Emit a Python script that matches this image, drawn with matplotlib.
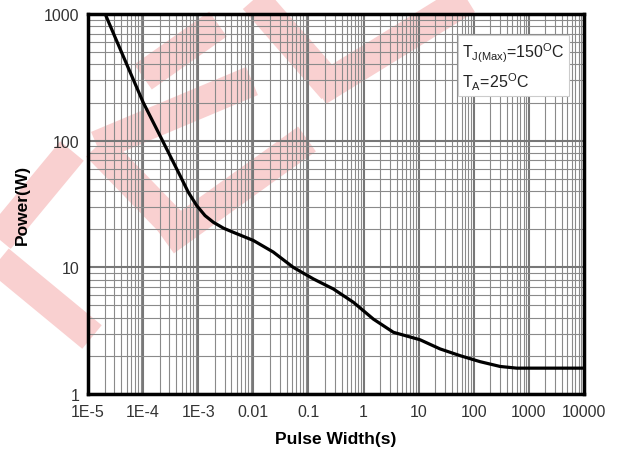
import matplotlib
matplotlib.use("Agg")
import matplotlib.pyplot as plt
from matplotlib.ticker import LogLocator, FixedLocator, FixedFormatter, NullFormatter
from matplotlib.lines import Line2D

plt.rcParams['font.family'] = ['Liberation Sans', 'DejaVu Sans']
plt.rcParams['mathtext.fontset'] = 'custom'
plt.rcParams['mathtext.rm'] = 'Liberation Sans'

# single pulse maximum power curve
pulse_width = [2.05e-5, 3e-5, 5e-5, 1e-4, 2.33e-4, 4.68e-4, 6.6e-4, 9.4e-4, 1.33e-3,
               1.88e-3, 2.86e-3, 4.34e-3, 0.01, 0.023, 0.053, 0.123, 0.283, 0.653,
               1.51, 3.48, 10.6, 24.4, 56, 130, 300, 600, 1000, 10000]
power = [1000, 678, 404, 201, 97, 53, 39.2, 30.7, 25.6,
         22.7, 20.4, 18.9, 16.3, 13.2, 10.0, 8.1, 6.75, 5.3,
         3.9, 3.07, 2.68, 2.27, 2.01, 1.80, 1.65, 1.60, 1.60, 1.60]

x_ticks = [1e-5, 1e-4, 1e-3, 1e-2, 1e-1, 1, 10, 100, 1000, 10000]
x_labels = ["1E-5", "1E-4", "1E-3", "0.01", "0.1", "1", "10", "100", "1000", "10000"]
y_ticks = [1, 10, 100, 1000]
y_labels = ["1", "10", "100", "1000"]

W, H = 618, 452
fig = plt.figure(figsize=(W / 100, H / 100), dpi=100)
ax = fig.add_axes([88 / W, 1 - 395 / H, 496 / W, 380 / H])
ax.patch.set_alpha(0)

# pale red watermark strokes behind the plot (pixel coords, y down)
strokes = [
    ((-5, 245), (72, 152)),
    ((-5, 258), (92, 338)),
    ((97, 147), (187, 240)),
    ((97, 147), (252, 82)),
    ((165, 242), (307, 140)),
    ((143, 78), (218, 25)),
    ((250, -5), (333, 90)),
    ((318, 92), (475, -5)),
]
for (x0, y0), (x1, y1) in strokes:
    fig.add_artist(Line2D([x0 / W, x1 / W], [1 - y0 / H, 1 - y1 / H],
                          transform=fig.transFigure, color='#f9d0d0',
                          lw=22, solid_capstyle='butt', zorder=-5))

ax.loglog(pulse_width, power, color='black', lw=2.3, zorder=3)

ax.set_xlim(1e-5, 1e4)
ax.set_ylim(1, 1000)

ax.xaxis.set_major_locator(FixedLocator(x_ticks))
ax.xaxis.set_major_formatter(FixedFormatter(x_labels))
ax.yaxis.set_major_locator(FixedLocator(y_ticks))
ax.yaxis.set_major_formatter(FixedFormatter(y_labels))
for axis in (ax.xaxis, ax.yaxis):
    axis.set_minor_locator(LogLocator(base=10, subs=range(2, 10), numticks=30))
    axis.set_minor_formatter(NullFormatter())

ax.grid(which='major', color='#777777', lw=1.5)
ax.grid(which='minor', color='#8a8a8a', lw=0.8)
ax.set_axisbelow(True)
ax.tick_params(which='both', length=0, labelsize=11.5, colors='#333333', pad=6)
ax.tick_params(axis='x', pad=7)

for sp in ax.spines.values():
    sp.set_linewidth(2.5)
    sp.set_color('black')

ax.set_xlabel('Pulse Width(s)', fontsize=12.5, fontweight='bold', labelpad=9)
ax.set_ylabel('Power(W)', fontsize=12.5, fontweight='bold', labelpad=10)

ax.text(0.754, 0.93,
        'T$_{\\mathregular{J(Max)}}$=150$^{\\mathregular{O}}$C\nT$_{\\mathregular{A}}$=25$^{\\mathregular{O}}$C',
        transform=ax.transAxes, ha='left', va='top', fontsize=11.5,
        color='#222222', linespacing=1.4, zorder=5,
        bbox=dict(boxstyle='square,pad=0.25', facecolor='white',
                  edgecolor='#cccccc', lw=0.8))

fig.savefig('out.png', dpi=100)
